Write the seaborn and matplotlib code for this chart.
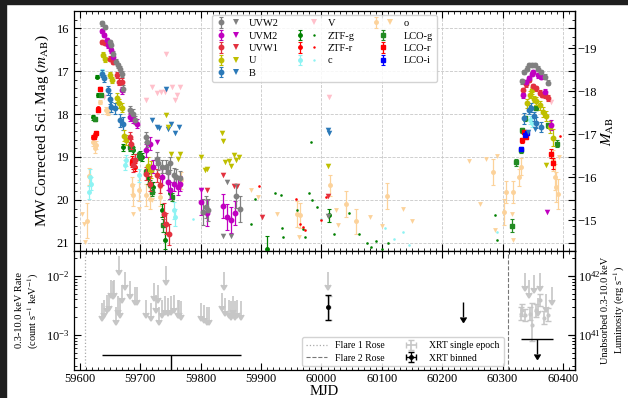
import numpy as np
import matplotlib
matplotlib.use("Agg")
import matplotlib.pyplot as plt
import seaborn as sns
from matplotlib.lines import Line2D
from matplotlib.patches import Rectangle
from matplotlib.legend_handler import HandlerTuple
from matplotlib.ticker import MultipleLocator, FixedLocator

# ---------------------------------------------------------------- data
DIST_MOD = 35.47          # m_AB - M_AB
LUM_FACTOR = 1e44         # rate -> luminosity

# Swift UVOT detections / upper limits
uvw2_t = [59637, 59641, 59650, 59652, 59655, 59660, 59663, 59666, 59669, 59672,
          59682, 59688, 59691, 59709, 59711, 59727, 59730, 59735, 59742, 59745,
          59749, 59755, 59759, 59766, 59803, 59809, 59812, 59858, 59865,
          60333, 60336, 60340, 60344, 60348, 60353, 60359, 60363, 60370, 60376]
uvw2_m = [15.89, 15.97, 16.32, 16.40, 16.59, 16.78, 16.86, 16.94, 17.06, 17.41,
          17.91, 17.99, 18.14, 18.53, 18.65, 19.04, 19.15, 19.23, 19.23, 19.35,
          19.15, 19.43, 19.47, 19.50, 20.28, 20.16, 20.24, 19.90, 20.22,
          17.24, 17.02, 16.94, 16.86, 16.85, 16.86, 16.94, 17.02, 17.13, 17.27]
uvw2_e = [0.05, 0.05, 0.05, 0.05, 0.06, 0.06, 0.06, 0.07, 0.07, 0.08,
          0.10, 0.10, 0.10, 0.12, 0.12, 0.15, 0.15, 0.15, 0.15, 0.18,
          0.15, 0.18, 0.18, 0.18, 0.30, 0.25, 0.25, 0.28, 0.30,
          0.05, 0.05, 0.05, 0.05, 0.05, 0.05, 0.05, 0.05, 0.06, 0.06]
uvw2_lim_t = [59843, 59837, 59850, 60010]
uvw2_lim_m = [19.58, 20.84, 20.84, 20.38]

uvm2_t = [59637, 59640, 59644, 59647, 59652, 59655, 59669, 59683, 59688, 59694,
          59709, 59716, 59721, 59735, 59745, 59749, 59755, 59763, 59766, 59801,
          59810, 59837, 59843, 59850, 59857,
          60334, 60339, 60344, 60348, 60351, 60359, 60363, 60370, 60381]
uvm2_m = [16.06, 16.16, 16.28, 16.40, 16.51, 16.67, 17.45, 18.07, 18.11, 18.22,
          18.84, 18.69, 19.23, 19.47, 19.58, 19.78, 19.62, 19.70, 19.62, 20.05,
          20.30, 20.15, 20.40, 20.47, 20.30,
          17.56, 17.25, 17.17, 17.06, 17.02, 17.10, 17.13, 17.48, 18.26]
uvm2_e = [0.05, 0.05, 0.05, 0.05, 0.06, 0.06, 0.08, 0.10, 0.10, 0.10,
          0.15, 0.15, 0.15, 0.18, 0.18, 0.20, 0.18, 0.18, 0.18, 0.30,
          0.30, 0.28, 0.30, 0.30, 0.28,
          0.06, 0.05, 0.05, 0.05, 0.05, 0.05, 0.05, 0.06, 0.12]
uvm2_lim_t = [59727, 59801, 60373]
uvm2_lim_m = [18.65, 19.76, 20.28]

uvw1_t = [59637, 59641, 59650, 59655, 59662, 59665, 59669, 59683, 59685, 59687,
          59691, 59710, 59716, 59728, 59732, 59739, 59742, 59748,
          60334, 60339, 60344, 60351, 60356, 60362, 60366, 60370, 60376]
uvw1_m = [16.32, 16.34, 16.71, 16.78, 17.10, 17.25, 17.25, 18.53, 18.69, 19.19,
          19.08, 19.39, 19.62, 19.43, 19.66, 20.32, 20.55, 20.80,
          17.45, 17.30, 17.20, 17.35, 17.40, 17.50, 17.55, 17.55, 17.62]
uvw1_e = [0.05, 0.05, 0.06, 0.06, 0.07, 0.08, 0.08, 0.12, 0.12, 0.15,
          0.15, 0.15, 0.18, 0.15, 0.18, 0.25, 0.25, 0.25,
          0.06, 0.06, 0.06, 0.06, 0.06, 0.06, 0.06, 0.07, 0.07]
uvw1_lim_t = [59811, 59837, 59855, 59860, 59902, 60010]
uvw1_lim_m = [19.78, 19.43, 19.68, 19.68, 20.40, 19.91]

u_t = [59638, 59641, 59650, 59653, 59661, 59665, 59669, 59673, 59676, 59712, 59718,
       60340, 60345, 60348, 60352, 60356, 60362, 60367, 60372, 60378, 60384]
u_m = [16.62, 16.72, 17.08, 17.20, 17.62, 17.75, 17.85, 18.50, 18.60, 19.20, 19.30,
       17.75, 17.55, 17.45, 17.65, 17.70, 17.80, 17.95, 18.05, 18.30, 18.55]
u_e = [0.06, 0.06, 0.07, 0.07, 0.10, 0.10, 0.10, 0.12, 0.12, 0.20, 0.20,
       0.10, 0.08, 0.08, 0.08, 0.10, 0.10, 0.12, 0.12, 0.15, 0.20]
u_lim_t = [59742, 59745, 59750, 59763, 59766, 59801, 59807, 59811, 59835, 59837,
           59840, 59846, 59850, 59855, 59859, 59864, 60011, 60372]
u_lim_m = [18.03, 18.30, 18.92, 19.04, 18.92, 19.01, 19.31, 19.29, 18.44, 18.63,
           19.11, 19.09, 19.22, 18.96, 19.06, 19.01, 19.22, 19.19]

b_t = [59636, 59639, 59647, 59650, 59652, 59658, 59666, 59672,
       60335, 60344, 60347, 60352, 60356, 60363]
b_m = [17.06, 17.17, 17.45, 17.64, 17.83, 17.87, 18.14, 18.22,
       18.10, 17.90, 17.85, 18.05, 18.20, 18.30]
b_e = [0.08, 0.08, 0.10, 0.12, 0.12, 0.12, 0.15, 0.15,
       0.12, 0.10, 0.10, 0.10, 0.12, 0.12]
b_lim_t = [59720, 59727, 59731, 59745, 59750, 59757, 59764, 59742, 60010, 60013, 60342, 60354]
b_lim_m = [18.14, 18.30, 18.32, 18.34, 18.22, 18.44, 18.30, 17.41, 18.38, 18.44, 18.42, 18.35]

v_lim_t = [59639, 59710, 59719, 59728, 59734, 59741, 59742, 59752, 59757, 59760,
           59766, 60012, 60340, 60381]
v_lim_m = [17.60, 17.68, 17.37, 17.52, 17.48, 17.48, 16.59, 17.37, 17.68, 17.56,
           17.37, 17.60, 17.76, 17.72]

# ZTF
ztfg_t = [59622, 59625, 59628, 59630, 59671, 59683, 59688, 59699, 59702, 59713,
          59721, 59735, 59741, 59749, 59909, 60013]
ztfg_m = [18.08, 18.12, 17.13, 17.56, 18.77, 18.77, 18.84, 18.96, 19.00, 19.50,
          19.70, 20.24, 20.94, 19.85, 21.15, 20.36]
ztfg_e = [0.05, 0.05, 0.04, 0.05, 0.08, 0.08, 0.08, 0.10, 0.10, 0.12,
          0.12, 0.15, 0.20, 0.12, 0.30, 0.15]
ztfg_lim_t = [59884, 59890, 59923, 59933, 59934, 59937, 59959, 59969, 59973, 59980,
              59982, 59985, 59993, 60021, 60045, 60063, 60075, 60082, 60090, 60100,
              60110, 60287, 60291]
ztfg_lim_m = [20.57, 19.97, 19.84, 19.88, 20.65, 20.86, 20.24, 20.67, 20.86, 19.85,
              18.66, 20.01, 20.16, 20.80, 20.30, 20.80, 21.00, 21.10, 20.95, 21.15,
              21.00, 20.34, 20.94]

ztfr_t = [59622, 59625, 59629, 59633, 59686, 59688, 59691]
ztfr_m = [18.53, 18.49, 17.87, 17.41, 19.08, 19.19, 19.23]
ztfr_e = [0.05, 0.05, 0.04, 0.04, 0.10, 0.10, 0.10]
ztfr_lim_t = [59896, 59958, 59965, 59970, 59973, 60000, 60007, 60395]
ztfr_lim_m = [19.67, 19.99, 20.55, 20.63, 20.69, 20.46, 19.93, 18.50]

# ATLAS
c_t = [59615, 59617, 59619, 59636, 59675, 59677, 59697, 59755, 59757, 60345, 60348]
c_m = [19.82, 19.47, 19.62, 17.02, 19.19, 19.08, 19.43, 20.24, 20.40, 18.14, 18.20]
c_e = [0.15, 0.20, 0.15, 0.08, 0.12, 0.12, 0.15, 0.20, 0.20, 0.10, 0.10]
c_lim_t = [59787, 59999, 60105, 60120, 60135, 60145, 60290]
c_lim_m = [20.44, 20.45, 20.65, 20.90, 20.75, 21.05, 20.75]

o_t = [59611, 59615, 59622, 59624, 59626, 59633, 59643, 59647, 59686, 59688,
       59697, 59710, 59716, 59732, 59768, 59959, 59965, 60014, 60040, 60058,
       60108, 60284, 60302, 60305, 60318, 60328, 60331, 60384, 60387, 60389, 60392]
o_m = [20.48, 19.45, 18.65, 18.80, 18.72, 17.72, 17.91, 17.95, 19.66, 19.89,
       19.78, 19.89, 19.97, 19.93, 19.54, 20.32, 20.36, 19.66, 20.10, 20.50,
       19.90, 19.35, 20.28, 19.81, 19.81, 19.47, 19.23, 19.08, 19.47, 19.70, 19.86]
o_e = [0.40, 0.20, 0.10, 0.10, 0.10, 0.05, 0.08, 0.08, 0.20, 0.25,
       0.25, 0.25, 0.25, 0.20, 0.20, 0.30, 0.30, 0.25, 0.30, 0.30,
       0.30, 0.30, 0.30, 0.25, 0.25, 0.20, 0.20, 0.25, 0.30, 0.35, 0.35]
o_lim_t = [59603, 59606, 59608, 59697, 59688, 59720, 59884, 59895, 59927, 59963,
           60024, 60028, 60080, 60100, 60135, 60150, 60245, 60262, 60273, 60287,
           60290, 60316, 60318, 60394]
o_lim_m = [20.32, 20.55, 20.98, 20.20, 20.32, 20.01, 19.76, 19.93, 20.32, 20.86,
           20.24, 20.59, 20.40, 20.60, 20.20, 20.50, 19.10, 20.10, 19.04, 20.71,
           18.98, 20.32, 20.94, 19.00]

# LCO
lcog_t = [59624, 59634, 59683, 59686, 59697, 59699, 59710, 59716, 59719, 59738,
          59752, 60315, 60323, 60331, 60333, 60338, 60355, 60375, 60390]
lcog_m = [18.12, 17.55, 18.77, 18.80, 18.96, 19.00, 19.35, 19.62, 19.82, 20.59,
          19.93, 20.60, 19.12, 18.84, 18.38, 18.10, 17.85, 18.26, 18.69]
lcog_e = [0.04, 0.04, 0.06, 0.06, 0.07, 0.07, 0.08, 0.09, 0.10, 0.15,
          0.10, 0.15, 0.08, 0.07, 0.06, 0.05, 0.05, 0.06, 0.08]

lcor_t = [59623, 59626, 59629, 59633, 59686, 60333, 60336, 60339, 60381, 60383]
lcor_m = [18.53, 18.45, 17.91, 17.41, 19.15, 18.61, 18.42, 18.53, 18.92, 19.15]
lcor_e = [0.04, 0.04, 0.04, 0.04, 0.08, 0.06, 0.05, 0.05, 0.10, 0.12]

lcoi_t = [60331, 60337, 60340]
lcoi_m = [18.81, 18.49, 18.44]
lcoi_e = [0.05, 0.05, 0.05]

# Swift XRT (count s^-1 keV^-1)
xrt_ul_t = [59637, 59640, 59644, 59648, 59651, 59654, 59656, 59660, 59663, 59664,
            59666, 59670, 59675, 59683, 59691, 59694, 59709, 59718, 59722, 59726,
            59729, 59731, 59735, 59741, 59742, 59746, 59751, 59756, 59762, 59764,
            59767, 59801, 59806, 59810, 59813, 59835, 59838, 59840, 59846, 59850,
            59854, 59856, 59860, 59866, 60010, 60337, 60344, 60352, 60358, 60362,
            60372, 60382]
xrt_ul_r = [3.5e-3, 3.9e-3, 4.8e-3, 5.1e-3, 8.5e-3, 8.1e-3, 8.7e-3, 3.0e-3, 4.5e-3, 2.14e-2,
            3.9e-3, 7.1e-3, 1.17e-2, 8.1e-3, 6.6e-3, 6.6e-3, 3.9e-3, 3.5e-3, 7.6e-3, 4.8e-3,
            7.1e-3, 3.0e-3, 3.9e-3, 4.5e-3, 1.45e-2, 4.2e-3, 4.5e-3, 4.8e-3, 3.9e-3, 3.9e-3,
            3.7e-3, 3.5e-3, 3.2e-3, 3.0e-3, 3.0e-3, 5.1e-3, 1.17e-2, 4.2e-3, 3.9e-3, 3.7e-3,
            4.5e-3, 3.7e-3, 3.9e-3, 3.7e-3, 1.17e-2, 1.12e-2, 8.5e-3, 1.05e-2, 4.3e-3, 1.12e-2,
            5.0e-3, 6.6e-3]
xrt_det_t = [60012, 60331, 60333, 60338, 60345, 60349, 60356, 60362, 60368, 60375]
xrt_det_r = [3.0e-3, 2.3e-3, 2.6e-3, 2.2e-3, 2.3e-3, 1.5e-3, 2.6e-3, 3.9e-3, 1.95e-3, 2.2e-3]
xrt_det_lo = [1.2e-3, 0.5e-3, 0.5e-3, 0.5e-3, 0.5e-3, 0.7e-3, 0.6e-3, 0.8e-3, 0.4e-3, 0.5e-3]
xrt_det_hi = [1.6e-3, 0.7e-3, 0.7e-3, 0.6e-3, 0.7e-3, 2.0e-3, 0.7e-3, 1.0e-3, 0.6e-3, 0.7e-3]

bin_ul_t = [59751, 60235, 60357]
bin_ul_r = [4.6e-4, 3.6e-3, 8.6e-4]
bin_ul_xlo = [114, 0, 27]
bin_ul_xhi = [115, 0, 27]
bin_det_t = [60010]
bin_det_r = [3.0e-3]
bin_det_lo = [1.2e-3]
bin_det_hi = [1.8e-3]

flare1_rise = 59609
flare2_rise = 60309

# ---------------------------------------------------------------- style
sns.set_theme(style="ticks", color_codes=False)
plt.rcParams.update({
    "font.family": ["Liberation Serif", "DejaVu Serif"],
    "mathtext.fontset": "stix",
    "axes.edgecolor": "black",
    "axes.linewidth": 0.9,
    "xtick.color": "black",
    "ytick.color": "black",
    "text.color": "black",
    "axes.labelcolor": "black",
})

fig = plt.figure(figsize=(6.28, 3.98), dpi=100)
ax1 = fig.add_axes([0.1178, 0.3693, 0.7978, 0.6030])
ax2 = fig.add_axes([0.1178, 0.0704, 0.7978, 0.2989], sharex=ax1)

C_UVW2, C_UVM2, C_UVW1, C_U, C_B, C_V = "#808080", "#c000c0", "#e3313f", "#bfbf00", "#2b79b8", "#ffc0cb"
C_ZG, C_ZR, C_C, C_O = "#008000", "#ff0000", "#8ef3f3", "#fcd29a"
C_LG, C_LR, C_LI = "#228b22", "#ff0000", "#0000ff"


def det(t, m, e, color, fmt, ms, z):
    return ax1.errorbar(t, m, yerr=e, fmt=fmt, color=color, ms=ms, mec=color,
                        elinewidth=0.9, capsize=1.5, capthick=0.8, zorder=z)


def lim(t, m, color, marker, s, z):
    sns.scatterplot(x=t, y=m, marker=marker, color=color, s=s, linewidth=0,
                    ax=ax1, legend=False, zorder=z)


# background ATLAS
eb_o = det(o_t, o_m, o_e, C_O, "o", 2.5, 2)
lim(o_lim_t, o_lim_m, C_O, "v", 12, 2)
eb_c = det(c_t, c_m, c_e, C_C, "o", 2.5, 2)
lim(c_lim_t, c_lim_m, C_C, ".", 14, 2)
# ZTF
eb_zg = det(ztfg_t, ztfg_m, ztfg_e, C_ZG, "o", 2.5, 3)
lim(ztfg_lim_t, ztfg_lim_m, C_ZG, ".", 14, 3)
eb_zr = det(ztfr_t, ztfr_m, ztfr_e, C_ZR, "o", 2.5, 3)
lim(ztfr_lim_t, ztfr_lim_m, C_ZR, ".", 14, 3)
# LCO
eb_lg = det(lcog_t, lcog_m, lcog_e, C_LG, "s", 3.2, 4)
eb_lr = det(lcor_t, lcor_m, lcor_e, C_LR, "s", 3.2, 4)
eb_li = det(lcoi_t, lcoi_m, lcoi_e, C_LI, "s", 3.2, 4)
# Swift UVOT
lim(v_lim_t, v_lim_m, C_V, "v", 16, 4)
eb_b = det(b_t, b_m, b_e, C_B, "o", 3.2, 5)
lim(b_lim_t, b_lim_m, C_B, "v", 16, 5)
eb_u = det(u_t, u_m, u_e, C_U, "o", 3.2, 5)
lim(u_lim_t, u_lim_m, C_U, "v", 16, 5)
eb_w1 = det(uvw1_t, uvw1_m, uvw1_e, C_UVW1, "o", 3.2, 5)
lim(uvw1_lim_t, uvw1_lim_m, C_UVW1, "v", 16, 5)
eb_m2 = det(uvm2_t, uvm2_m, uvm2_e, C_UVM2, "o", 3.2, 5)
lim(uvm2_lim_t, uvm2_lim_m, C_UVM2, "v", 16, 5)
eb_w2 = det(uvw2_t, uvw2_m, uvw2_e, C_UVW2, "o", 3.2, 5)
lim(uvw2_lim_t, uvw2_lim_m, C_UVW2, "v", 16, 5)


def tri(c):
    return Line2D([], [], ls="", marker="v", color=c, ms=4, mew=0)


def dot(c):
    return Line2D([], [], ls="", marker=".", color=c, ms=3.5, mew=0)


blank = Line2D([], [], ls="", marker="")
handles = [(eb_w2, tri(C_UVW2)), (eb_m2, tri(C_UVM2)), (eb_w1, tri(C_UVW1)),
           (eb_u, tri(C_U)), (eb_b, tri(C_B)),
           (blank, tri(C_V)), (eb_zg, dot(C_ZG)), (eb_zr, dot(C_ZR)), (eb_c, dot(C_C)),
           (eb_o, tri(C_O)), eb_lg, eb_lr, eb_li]
labels = ["UVW2", "UVM2", "UVW1", "U", "B", "V", "ZTF-g", "ZTF-r", "c",
          "o", "LCO-g", "LCO-r", "LCO-i"]
leg1 = ax1.legend(handles, labels, ncol=3, loc="upper center", fontsize=7.5,
                  handler_map={tuple: HandlerTuple(ndivide=None, pad=0.5)},
                  handlelength=2.3, handletextpad=0.8, columnspacing=1.6,
                  labelspacing=0.3, borderpad=0.4, borderaxespad=0.35,
                  framealpha=0.85, edgecolor="#cccccc", fancybox=True)

ax1.set_xlim(59590, 60420)
ax1.set_ylim(21.19, 15.60)
ax1.yaxis.set_major_locator(MultipleLocator(1))
ax1.yaxis.set_minor_locator(MultipleLocator(0.2))
ax1.xaxis.set_major_locator(MultipleLocator(100))
ax1.xaxis.set_minor_locator(MultipleLocator(10))
ax1.grid(True, which="major", color="#c8c8c8", ls="--", lw=0.6)
ax1.set_axisbelow(True)
ax1.set_ylabel("MW Corrected Sci. Mag ($m_{\\rm AB}$)", fontsize=11, labelpad=4)
ax1.set_xlabel("")

sec1 = ax1.secondary_yaxis("right", functions=(lambda m: m - DIST_MOD,
                                                lambda M: M + DIST_MOD))
sec1.yaxis.set_major_locator(FixedLocator([-19, -18, -17, -16, -15]))
sec1.tick_params(direction="in", length=5, width=0.8, labelsize=9, pad=2)
sec1.set_ylabel("$M_{\\rm AB}$", fontsize=11, labelpad=2)

# ---------------------------------------------------------------- X-ray panel
ax2.set_yscale("log")
ax2.axvline(flare1_rise, ls=":", color="#aaaaaa", lw=0.9)
ax2.axvline(flare2_rise, ls="--", color="#777777", lw=0.8)

GREY = "#c6c6c6"
ul_len = [0.4 * r for r in xrt_ul_r]
e1 = ax2.errorbar(xrt_ul_t, xrt_ul_r, yerr=ul_len, uplims=True, fmt="none",
                  ecolor=GREY, elinewidth=1.2, capsize=2.2, capthick=1.2)
for cl in e1[1]:
    if cl.get_marker() == "_":
        cl.set_visible(False)
    cl.set_color(GREY)
    cl.set_markerfacecolor(GREY)
    cl.set_markeredgecolor(GREY)
ax2.errorbar(xrt_det_t, xrt_det_r, yerr=[xrt_det_lo, xrt_det_hi], fmt="o",
             color=GREY, ms=2, elinewidth=1.2, capsize=2, capthick=1.0)

bin_len = [0.45 * r for r in bin_ul_r]
e2 = ax2.errorbar(bin_ul_t, bin_ul_r, yerr=bin_len, xerr=[bin_ul_xlo, bin_ul_xhi],
                  uplims=True, fmt="none", ecolor="black", elinewidth=1.0,
                  capsize=2.2, capthick=1.0)
for cl in e2[1]:
    if cl.get_marker() in ("_", "|"):
        cl.set_visible(False)
    cl.set_color("black")
    cl.set_markerfacecolor("black")
    cl.set_markeredgecolor("black")
ax2.errorbar(bin_det_t, bin_det_r, yerr=[bin_det_lo, bin_det_hi], fmt="o",
             color="black", ms=2.5, elinewidth=1.0, capsize=2.5, capthick=1.0)

ax2.set_ylim(2.55e-4, 2.65e-2)
ax2.set_xlim(59590, 60420)
ax2.set_xlabel("MJD", fontsize=10.5, labelpad=0)
ax2.set_ylabel("0.3-10.0 keV Rate\n(count s$^{-1}$ keV$^{-1}$)", fontsize=7.5,
               labelpad=3)

sec2 = ax2.secondary_yaxis("right", functions=(lambda r: r * LUM_FACTOR,
                                                lambda L: L / LUM_FACTOR))
sec2.yaxis.set_major_locator(FixedLocator([1e41, 1e42]))
sec2.tick_params(which="both", direction="in", labelsize=9, pad=2)
sec2.tick_params(which="major", length=5, width=0.8)
sec2.tick_params(which="minor", length=2.5, width=0.6)
sec2.set_ylabel("Unabsorbed 0.3-10.0 keV\nLuminosity (erg s$^{-1}$)", fontsize=7.5,
                labelpad=0)

# legend for X-ray panel
h_f1 = Line2D([], [], ls=":", color="#aaaaaa", lw=0.9)
h_f2 = Line2D([], [], ls="--", color="#777777", lw=0.8)
h_s = ax2.errorbar([np.nan], [np.nan], xerr=[1], yerr=[1], fmt="none", ecolor=GREY,
                   elinewidth=1.2, capsize=2.2)
h_b = ax2.errorbar([np.nan], [np.nan], xerr=[1], yerr=[1], fmt="o", color="black",
                   ms=2.5, elinewidth=1.0, capsize=2.2)
ax2.legend([h_f1, h_f2, h_s, h_b],
           ["Flare 1 Rose", "Flare 2 Rose", "XRT single epoch", "XRT binned"],
           ncol=2, fontsize=7, loc="lower left", bbox_to_anchor=(0.455, 0.03),
           borderaxespad=0, handlelength=2.2, columnspacing=1.6, labelspacing=0.35,
           framealpha=0.85, edgecolor="#cccccc")

for ax in (ax1, ax2):
    ax.tick_params(which="both", direction="in", top=True, right=True, labelsize=9)
    ax.tick_params(which="major", length=5, width=0.8)
    ax.tick_params(which="minor", length=2.5, width=0.6)
ax1.tick_params(labelbottom=False)
ax2.tick_params(axis="x", pad=2)

# dark screenshot border
fig.patches.append(Rectangle((0, 1 - 4 / 398), 1, 4 / 398, transform=fig.transFigure,
                             color="#1e1e1e", zorder=20))
fig.patches.append(Rectangle((0, 0), 6 / 628, 1, transform=fig.transFigure,
                             color="#1e1e1e", zorder=20))

fig.savefig("out.png", dpi=100)
